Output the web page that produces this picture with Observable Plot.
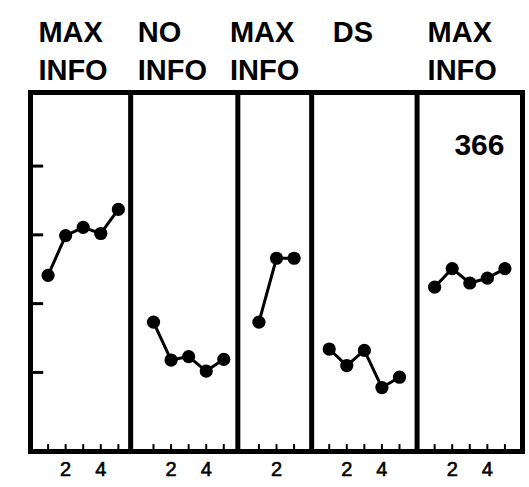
<!DOCTYPE html>
<html>
<head>
<meta charset="utf-8">
<script src="https://cdn.jsdelivr.net/npm/d3@7"></script>
<script src="https://cdn.jsdelivr.net/npm/@observablehq/plot@0.6"></script>
<style>
  html, body { margin: 0; padding: 0; background: #fff; }
  #chart svg { display: block; }
  g[aria-label="phase header"] text { letter-spacing: 1.8px; }
</style>
</head>
<body>
<div id="chart"></div>
<script>
// Phase headers (top of each panel)
const phaseLabels = ["MAX\nINFO", "NO\nINFO", "MAX\nINFO", "DS", "MAX\nINFO"];
// Session offset of each phase on the running session axis
const phaseOffset = [0, 6, 12, 16, 22];
// Phase boundaries on the running session axis
const phaseEdges = [5.7, 11.8, 16, 22];
// Header anchor on the session axis
const headerAt = [0.45, 6.1, 11.35, 17.2, 22.6];

// Values read for each phase (sessions 1..n)
const maxInfoA = [2.41, 2.99, 3.11, 3.02, 3.37];
const noInfo   = [1.73, 1.18, 1.23, 1.02, 1.19];
const maxInfoB = [1.73, 2.66, 2.66];
const dsPhase  = [1.34, 1.10, 1.32, 0.78, 0.93];
const maxInfoC = [2.24, 2.51, 2.30, 2.37, 2.51];

// Tick labels and y tick values
const sessionTickLabels = [2, 4];
const yTicks = [1, 2, 3, 4];
const subjectLabel = "366";

const series = [maxInfoA, noInfo, maxInfoB, dsPhase, maxInfoC];
const points = series.flatMap((vals, p) =>
  vals.map((v, i) => ({phase: p, session: i + 1, x: phaseOffset[p] + i + 1, y: v})));
const sessionTicks = series.flatMap((vals, p) =>
  vals.map((v, i) => ({x: phaseOffset[p] + i + 1})));
const tickLabelData = series.flatMap((vals, p) =>
  sessionTickLabels.filter(s => s <= vals.length).map(s => ({x: phaseOffset[p] + s, label: String(s)})));
const headers = phaseLabels.map((label, p) => ({x: headerAt[p], label}));

const yMin = -0.15, yMax = 5.07;

const chart = Plot.plot({
  width: 529,
  height: 487,
  marginLeft: 30,
  marginRight: 7,
  marginTop: 92,
  marginBottom: 36,
  style: {background: "#fff", fontFamily: "'Liberation Sans', Arial, sans-serif", color: "#000"},
  x: {domain: [0, 28], axis: null},
  y: {domain: [yMin, yMax], axis: null},
  marks: [
    // inward y ticks
    Plot.ruleY(yTicks, {x1: 0, x2: 0.75, stroke: "#000", strokeWidth: 3}),
    // small session ticks along the bottom
    Plot.ruleX(sessionTicks, {x: "x", y1: yMin, y2: yMin + 0.1, stroke: "#000", strokeWidth: 2}),
    // phase separators
    Plot.ruleX(phaseEdges, {stroke: "#000", strokeWidth: 5}),
    Plot.frame({stroke: "#000", strokeWidth: 5}),
    // data
    Plot.line(points, {x: "x", y: "y", z: "phase", stroke: "#000", strokeWidth: 3}),
    Plot.dot(points, {x: "x", y: "y", r: 6.6, fill: "#000", stroke: null}),
    // session tick labels
    Plot.text(tickLabelData, {x: "x", text: "label", frameAnchor: "bottom", lineAnchor: "top", dy: 10,
      fontSize: 20, fill: "#000", stroke: "#000", strokeWidth: 0.6}),
    // headers
    Plot.text(headers, {x: "x", text: "label", frameAnchor: "top", lineAnchor: "top", textAnchor: "start",
      dy: -77, lineHeight: 1.31, fontSize: 29, fontWeight: "bold", fill: "#000", ariaLabel: "phase header"}),
    // subject number
    Plot.text([subjectLabel], {frameAnchor: "top-right", textAnchor: "end", lineAnchor: "top",
      dx: -18, dy: 41, fontSize: 30, fontWeight: "bold", fill: "#000"})
  ]
});
document.getElementById("chart").appendChild(chart);
</script>
</body>
</html>
